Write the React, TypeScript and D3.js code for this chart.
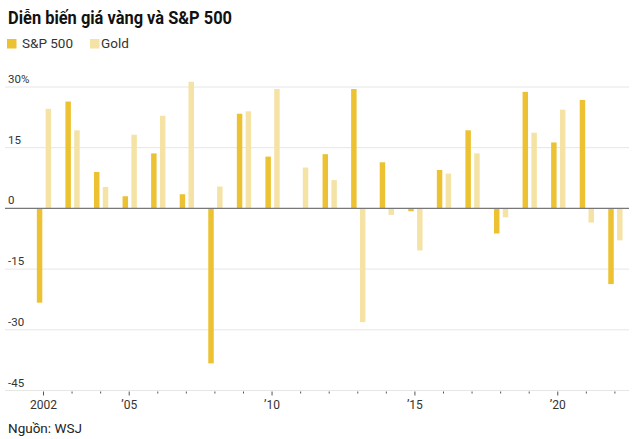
import React from "react";
import * as d3 from "d3";

const years = [2002, 2003, 2004, 2005, 2006, 2007, 2008, 2009, 2010, 2011, 2012, 2013, 2014, 2015, 2016, 2017, 2018, 2019, 2020, 2021, 2022];
const spValues = [-23.3, 26.4, 9.0, 3.0, 13.6, 3.5, -38.3, 23.4, 12.8, 0.0, 13.4, 29.5, 11.4, -0.7, 9.5, 19.3, -6.2, 28.8, 16.3, 26.8, -18.7];
const goldValues = [24.6, 19.3, 5.3, 18.2, 22.9, 31.3, 5.4, 24.0, 29.5, 10.1, 7.0, -28.1, -1.6, -10.4, 8.6, 13.6, -2.2, 18.7, 24.4, -3.5, -7.9];
const seriesNames = ["S&P 500", "Gold"];
const seriesColors = ["#ECC232", "#F4E3A4"];
const yTicks = [30, 15, 0, -15, -30, -45];
const labeledYears: Record<number, string> = { 2002: "2002", 2005: "’05", 2010: "’10", 2015: "’15", 2020: "’20" };

const W = 640;
const H = 439;
const FONT = "Roboto, 'Noto Sans', sans-serif";

export default function App() {
  const x = d3.scaleBand<number>().domain(years).range([29.7, 629.7]).paddingInner(0.5).paddingOuter(0.25);
  const xInner = d3.scaleBand<string>().domain(seriesNames).range([0, x.bandwidth()]).paddingInner(0.38);
  const y = d3.scaleLinear().domain([-45, 30]).range([390.5, 87]);

  const data = years.map((yr, i) => ({ yr, vals: [spValues[i], goldValues[i]] }));

  return (
    <svg width={W} height={H} style={{ position: "absolute", left: 0, top: 0, background: "#fff" }} fontFamily={FONT}>
      <text x={8} y={24} fontSize={17.5} fontWeight={700} fill="#111" textLength={224} lengthAdjust="spacingAndGlyphs">Diễn biến giá vàng và S&amp;P 500</text>
      <g>
        <rect x={7} y={39} width={9.5} height={9.5} fill={seriesColors[0]} />
        <text x={22} y={48} fontSize={13.5} fill="#333">{seriesNames[0]}</text>
        <rect x={90} y={39} width={9.5} height={9.5} fill={seriesColors[1]} />
        <text x={101} y={48} fontSize={13.5} fill="#333">{seriesNames[1]}</text>
      </g>
      {yTicks.map((t) => (
        <g key={t}>
          {t !== 0 && t !== -45 && (
            <line x1={5} x2={629} y1={y(t)} y2={y(t)} stroke="#e6e6e6" strokeWidth={1} />
          )}
          <text x={8} y={y(t) - 4} fontSize={11.5} fill="#333">{t === 30 ? "30%" : String(t)}</text>
        </g>
      ))}
      <line x1={5} x2={629} y1={y(-45)} y2={y(-45)} stroke="#e6e6e6" strokeWidth={1} />
      {data.map((d) =>
        d.vals.map((v, j) => (
          <rect
            key={`${d.yr}-${j}`}
            x={(x(d.yr) as number) + (xInner(seriesNames[j]) as number)}
            width={xInner.bandwidth()}
            y={y(Math.max(0, v))}
            height={Math.abs(y(v) - y(0))}
            fill={seriesColors[j]}
          />
        ))
      )}
      <line x1={5} x2={629} y1={y(0)} y2={y(0)} stroke="#777" strokeWidth={1.3} />
      {years.map((yr) => {
        const cx = (x(yr) as number) + x.bandwidth() / 2 - 0.5;
        const major = labeledYears[yr] !== undefined;
        return (
          <g key={yr}>
            <line x1={cx} x2={cx} y1={y(-45) + 1} y2={y(-45) + (major ? 5 : 3)} stroke="#555" strokeWidth={1} />
            {major && (
              <text x={cx} y={409} textAnchor="middle" fontSize={12} fill="#333">{labeledYears[yr]}</text>
            )}
          </g>
        );
      })}
      <text x={8} y={433} fontSize={13.5} fill="#222">Nguồn: WSJ</text>
    </svg>
  );
}
